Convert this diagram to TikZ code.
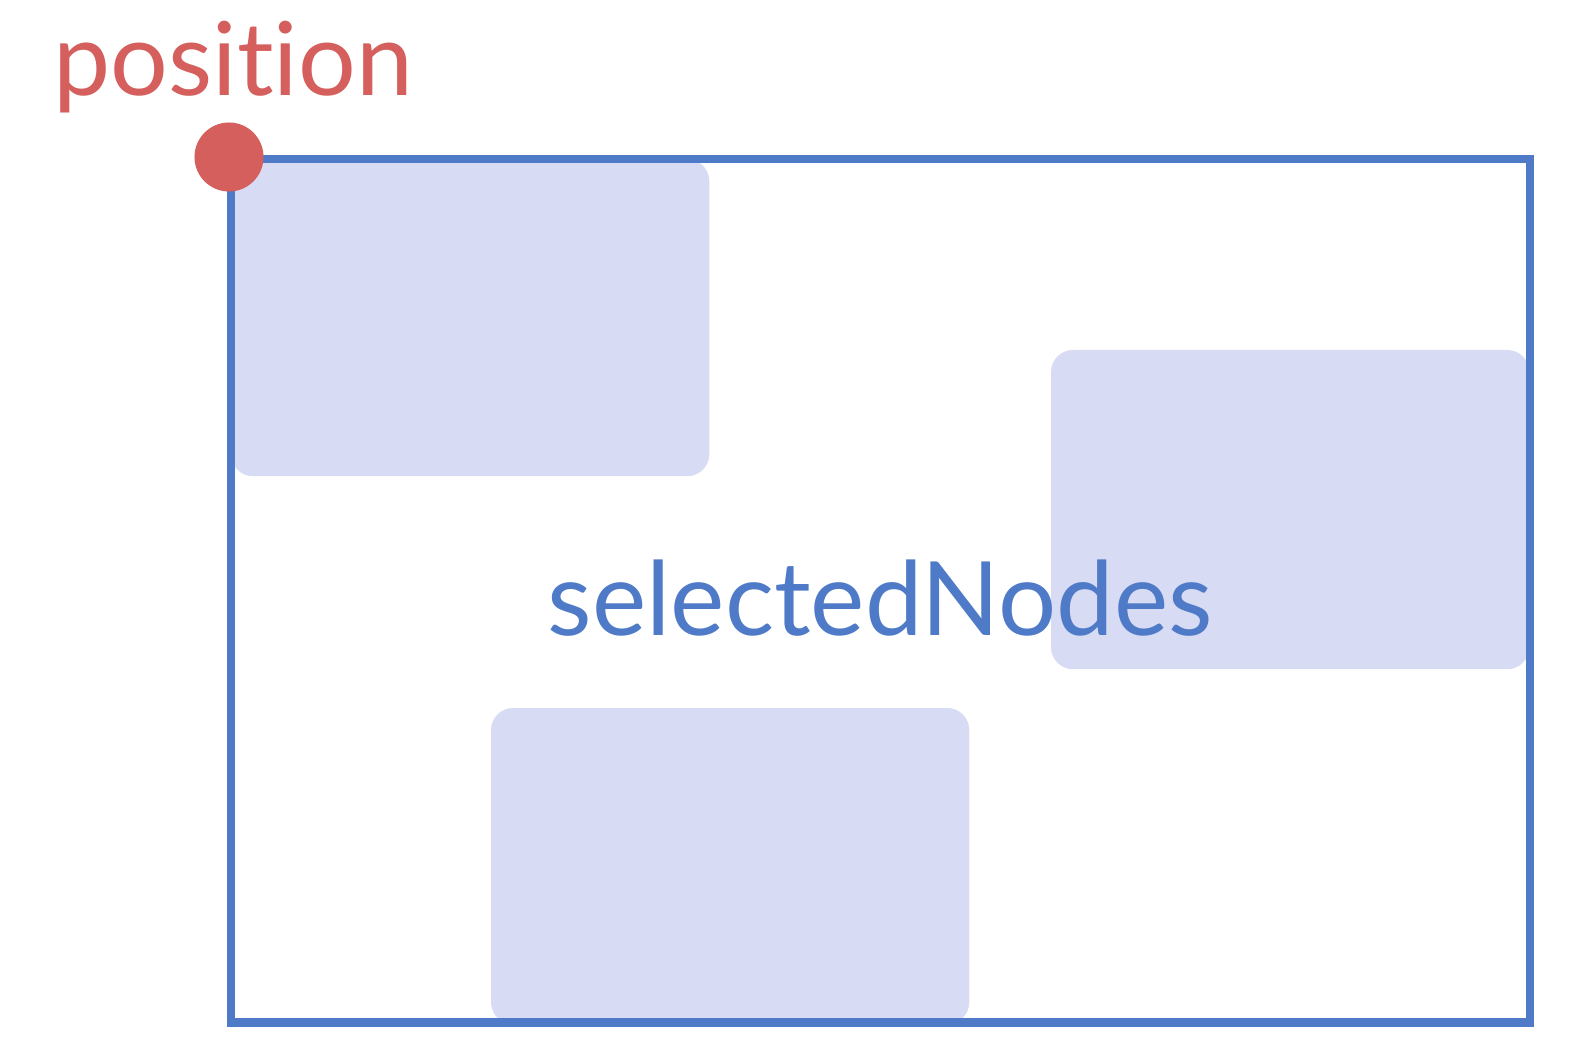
\documentclass[tikz,border=0pt]{standalone}
\usepackage{fontspec}
\setmainfont{Lato}[Ligatures=NoCommon]
\definecolor{selblue}{HTML}{4F7AC7}
\definecolor{posred}{HTML}{D45F5C}
\definecolor{nodefill}{HTML}{D7DCF4}
\begin{document}
\begin{tikzpicture}[x=0.01cm, y=-0.01cm]
\useasboundingbox (0,0) rectangle (1576,1064);
\node[rectangle, rounded corners=0.22cm, fill=nodefill, minimum width=4.78cm, minimum height=3.17cm, anchor=north west, outer sep=0] (nid0) at (231,159){};
\node[rectangle, rounded corners=0.22cm, fill=nodefill, minimum width=4.78cm, minimum height=3.19cm, anchor=north west, outer sep=0] (nid1) at (1051,350){};
\node[rectangle, rounded corners=0.22cm, fill=nodefill, minimum width=4.78cm, minimum height=3.16cm, anchor=north west, outer sep=0] (nid2) at (491,708){};
\node[rectangle, draw=selblue, line width=2.3pt, minimum width=12.98cm, minimum height=8.63cm, anchor=north west, inner sep=0, outer sep=0] (sel) at (231,159){};
\node[selblue, inner sep=0, font=\fontsize{29.2}{34}\selectfont] (sellbl) at ([yshift=-0.07cm]sel.center){selectedNodes};
\node[circle, fill=posred, minimum size=0.69cm, inner sep=0] (pos) at ([shift={(-2,-2)}]sel.north west){};
\node[posred, inner sep=0, anchor=base west, font=\fontsize{29}{34}\selectfont] (poslbl) at (53,96){position};
\end{tikzpicture}
\end{document}
